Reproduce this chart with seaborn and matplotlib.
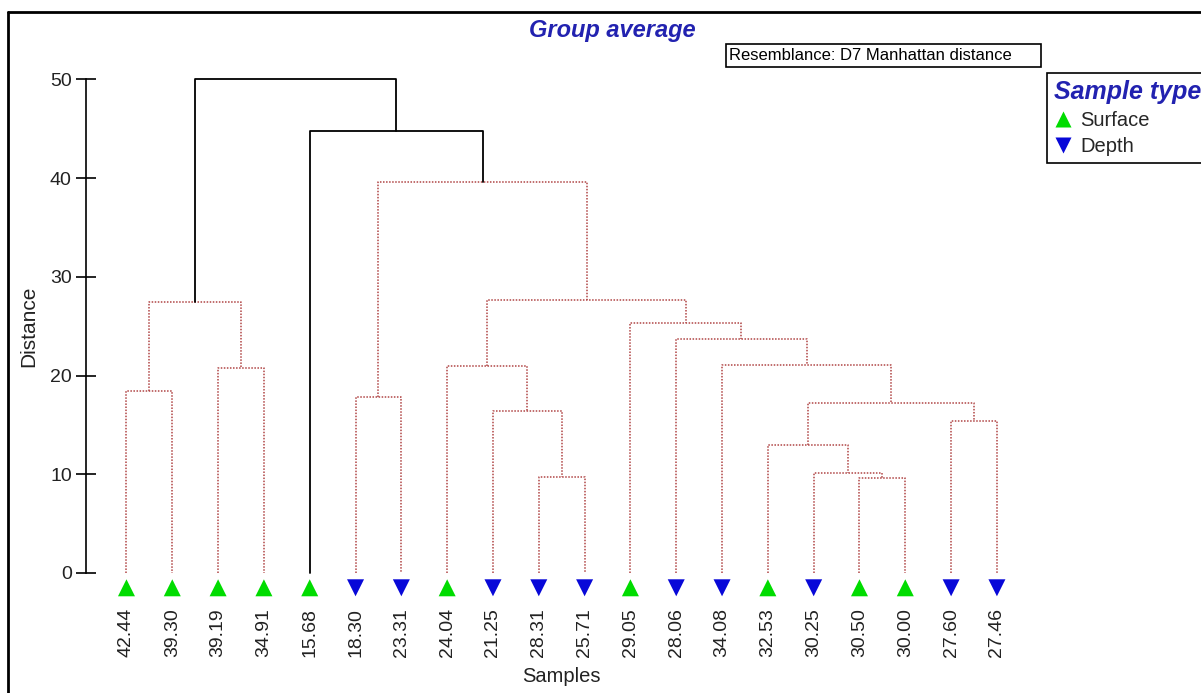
import matplotlib
matplotlib.use("Agg")
import matplotlib.pyplot as plt
from matplotlib.lines import Line2D
from matplotlib.patches import Rectangle
import pandas as pd
import seaborn as sns

# leaves, left to right as they appear in the dendrogram
sample_labels = ["42.44", "39.30", "39.19", "34.91", "15.68", "18.30", "23.31",
                 "24.04", "21.25", "28.31", "25.71", "29.05", "28.06", "34.08",
                 "32.53", "30.25", "30.50", "30.00", "27.60", "27.46"]
sample_types = ["Surface", "Surface", "Surface", "Surface", "Surface", "Depth", "Depth",
                "Surface", "Depth", "Depth", "Depth", "Surface", "Depth", "Depth",
                "Surface", "Depth", "Surface", "Surface", "Depth", "Depth"]

# group-average merges: node ids 0..19 are leaves, each merge creates node 20, 21, ...
merge_a = [9, 16, 15, 14, 18, 8, 5, 23, 0, 2, 7, 13, 12, 11, 28, 30, 26, 4, 34]
merge_b = [10, 17, 21, 22, 19, 20, 6, 24, 1, 3, 25, 27, 31, 32, 29, 33, 35, 36, 37]
merge_height = [9.7, 9.6, 10.1, 13.0, 15.4, 16.4, 17.8, 17.2, 18.4, 20.8,
                21.0, 21.1, 23.7, 25.3, 27.4, 27.6, 39.6, 44.8, 50.0]

y_ticks = [0, 10, 20, 30, 40, 50]
legend_order = ["Surface", "Depth"]

type_colors = {"Surface": "#00dc00", "Depth": "#0808d8"}
type_markers = {"Surface": "^", "Depth": "v"}
sig_cut = 40  # merges above this are drawn solid black
blue_text = "#2222b0"

sns.set_theme(style="ticks")
plt.rcParams["font.family"] = ["Liberation Sans", "DejaVu Sans"]

W, H = 1201, 693
fig = plt.figure(figsize=(W / 100, H / 100), dpi=100)
ax = fig.add_axes([85.7 / W, 1 - 602.6 / H, 952 / W, (602.6 - 79.3) / H])

# dendrogram links
n = len(sample_labels)
node_x = list(range(n))
node_h = [0.0] * n
for a, b, h in zip(merge_a, merge_b, merge_height):
    xa, xb = node_x[a], node_x[b]
    if h > sig_cut:
        style = dict(color="black", lw=1.3, ls="-")
    else:
        style = dict(color="#b04545", lw=1.1, ls=(0, (1, 1)))
    ax.plot([xa, xa, xb, xb], [node_h[a], h, h, node_h[b]], clip_on=False, **style)
    node_x.append((xa + xb) / 2)
    node_h.append(h)

# sample symbols under the leaves
leaves = pd.DataFrame({"pos": range(n), "type": sample_types})
leaves["level"] = -1.5
sns.scatterplot(data=leaves, x="pos", y="level", hue="type", style="type",
                palette=type_colors, markers=type_markers, s=150, linewidth=0,
                legend=False, ax=ax, clip_on=False)

ax.set_xlim(-0.89, n - 1 + 0.89)
ax.set_ylim(-3, 50)
for side in ["top", "right", "bottom"]:
    ax.spines[side].set_visible(False)
ax.spines["left"].set_bounds(0, 50)
ax.spines["left"].set_color("black")
ax.spines["left"].set_linewidth(1.2)

ax.set_yticks(y_ticks)
ax.tick_params(axis="y", direction="inout", length=14, width=1.2, pad=3,
               labelsize=14, color="black", labelcolor="#222222")
ax.set_xticks(range(n))
ax.set_xticklabels(sample_labels, rotation=90)
ax.tick_params(axis="x", length=0, pad=4, labelsize=14, labelcolor="#222222")

ax.set_xlabel("Samples", fontsize=14.5, color="#222222", va="center")
ax.xaxis.set_label_coords(0.5, -0.142)
ax.set_ylabel("Distance", fontsize=15, color="#222222", va="center")
ax.yaxis.set_label_coords(-0.0596, 0.528)

# title and resemblance note
fig.text(612 / W, 1 - 37 / H, "Group average", ha="center", va="baseline",
         fontsize=17, fontweight="bold", fontstyle="italic", color=blue_text)
fig.add_artist(Rectangle((726 / W, 1 - 67 / H), (1041 - 726) / W, (67 - 44) / H,
                         transform=fig.transFigure, fill=False, ec="black", lw=1.2))
fig.text(729 / W, 1 - 55.5 / H, "Resemblance: D7 Manhattan distance",
         ha="left", va="center", fontsize=12, color="black")

# outer frame (only top and left visible in the crop)
fig.add_artist(Line2D([8 / W, 8 / W], [0, 1 - 12 / H], color="black", lw=2,
                      transform=fig.transFigure))
fig.add_artist(Line2D([8 / W, 1], [1 - 12 / H, 1 - 12 / H], color="black", lw=2,
                      transform=fig.transFigure))

handles = [Line2D([], [], marker=type_markers[t], color=type_colors[t], ls="none",
                  ms=12, mec="none") for t in legend_order]
leg = fig.legend(handles, legend_order, loc="upper left",
                 bbox_to_anchor=(1047 / W, 1 - 73 / H), title="Sample type",
                 title_fontproperties={"size": 18, "weight": "bold", "style": "italic"},
                 fontsize=14.5, frameon=True, fancybox=False, edgecolor="black",
                 framealpha=1, borderpad=0.35, labelspacing=0.35, handlelength=0.9,
                 handletextpad=0.4, borderaxespad=0, alignment="left")
leg.get_title().set_color(blue_text)
leg.get_frame().set_linewidth(1.2)

fig.savefig("out.png", dpi=100)
